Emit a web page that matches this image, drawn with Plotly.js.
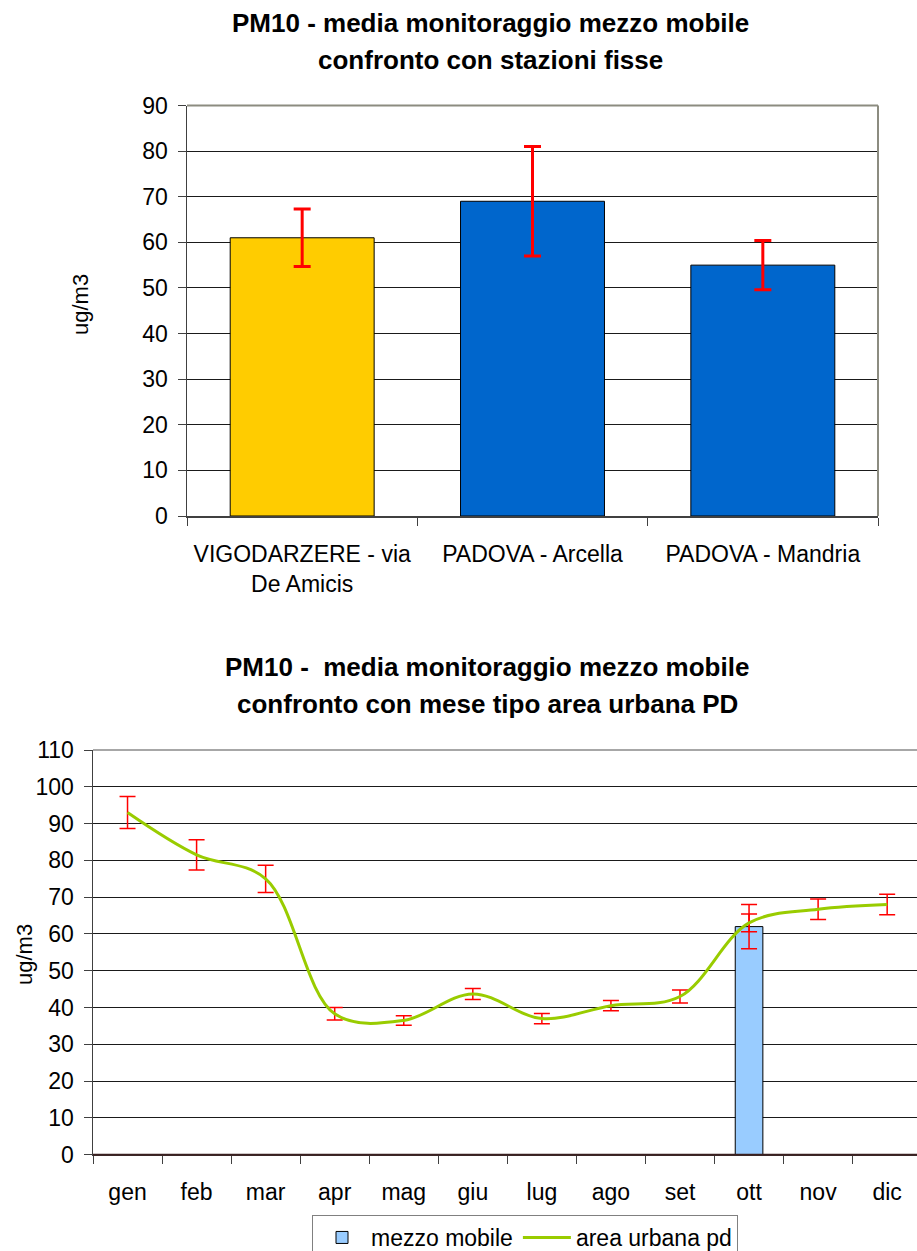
<!DOCTYPE html>
<html>
<head>
<meta charset="utf-8">
<script src="https://cdn.plot.ly/plotly-3.0.1.min.js"></script>
<style>
html,body{margin:0;padding:0;background:#ffffff;}
#chart{width:917px;height:1251px;}
</style>
</head>
<body>
<div id="chart"></div>
<script>
// ---- Top chart data: PM10 mean, mobile unit vs fixed stations ----
const stations = ['VIGODARZERE - via<br>De Amicis', 'PADOVA - Arcella', 'PADOVA - Mandria'];
const stationMeans = [61, 69, 55];
const stationErr = [6.3, 12, 5.4];

// ---- Bottom chart data: monthly typical urban area vs mobile unit ----
const months = ['gen', 'feb', 'mar', 'apr', 'mag', 'giu', 'lug', 'ago', 'set', 'ott', 'nov', 'dic'];
const mobileValues = [0, 0, 0, 0, 0, 0, 0, 0, 0, 62, 0, 0];
const mobileErr = [0, 0, 0, 0, 0, 0, 0, 0, 0, 6, 0, 0];
const urbanValues = [93, 81.5, 75, 38.3, 36.5, 43.7, 37, 40.5, 43, 63, 66.7, 68];
const urbanErr = [4.35, 4.1, 3.7, 1.7, 1.3, 1.5, 1.4, 1.4, 1.8, 2.4, 2.8, 2.8];

// ---- Text ----
const topTitle = ['PM10 - media monitoraggio mezzo mobile', 'confronto con stazioni fisse'];
const bottomTitle = ['PM10 -  media monitoraggio mezzo mobile', 'confronto con mese tipo area urbana PD'];
const unitLabel = 'ug/m3';
const seriesNames = ['mezzo mobile', 'area urbana pd'];

// ---- Styles ----
const W = 917, H = 1251;
const FONT = 'Liberation Sans, Arial, sans-serif';
const stationColors = ['#FFCC00', '#0066CC', '#0066CC'];
const px = v => v / W;            // horizontal pixel -> paper
const py = v => 1 - v / H;        // vertical pixel (from top) -> paper
const axisLine = '#404040';
const gridCol = '#1a1a1a';

const traces = [
  {
    type: 'bar',
    x: stations,
    y: stationMeans,
    xaxis: 'x', yaxis: 'y',
    width: 0.625,
    marker: {color: stationColors, line: {color: '#000000', width: 1}},
    error_y: {type: 'data', array: stationErr, visible: true, color: '#FF0000', thickness: 3, width: 8.5},
    showlegend: false,
    hoverinfo: 'skip'
  },
  {
    type: 'bar',
    name: seriesNames[0],
    x: months,
    y: mobileValues,
    xaxis: 'x2', yaxis: 'y2',
    width: 0.4,
    marker: {color: '#99CCFF', line: {color: '#000000', width: 1}},
    error_y: {type: 'data', array: mobileErr, visible: true, color: '#FF0000', thickness: 1.5, width: 8},
    hoverinfo: 'skip'
  },
  {
    type: 'scatter',
    mode: 'lines',
    name: seriesNames[1],
    x: months,
    y: urbanValues,
    xaxis: 'x2', yaxis: 'y2',
    line: {color: '#99CC00', width: 3, shape: 'spline', smoothing: 1},
    error_y: {type: 'data', array: urbanErr, visible: true, color: '#FF0000', thickness: 1.5, width: 8},
    hoverinfo: 'skip'
  }
];

const tickFont = {family: FONT, size: 23, color: '#000000'};

const layout = {
  width: W, height: H,
  margin: {l: 0, r: 0, t: 0, b: 0, autoexpand: false},
  paper_bgcolor: '#ffffff',
  plot_bgcolor: '#ffffff',
  font: {family: FONT, color: '#000000'},
  showlegend: true,
  xaxis: {
    domain: [px(187), px(878)],
    anchor: 'y',
    type: 'category',
    range: [-0.5, 2.5],
    tickson: 'boundaries',
    ticks: 'outside', ticklen: 8, tickcolor: axisLine, tickwidth: 1,
    showline: true, linecolor: axisLine, linewidth: 1.5,
    showgrid: false, zeroline: false,
    tickfont: tickFont,
    ticklabelstandoff: 17,
    fixedrange: true
  },
  yaxis: {
    domain: [py(516), py(105.5)],
    anchor: 'x',
    range: [0, 90],
    dtick: 10, tick0: 0,
    ticks: 'outside', ticklen: 8, tickcolor: axisLine, tickwidth: 1,
    showline: true, linecolor: axisLine, linewidth: 1.5,
    showgrid: true, gridcolor: gridCol, gridwidth: 1,
    zeroline: false,
    tickfont: tickFont,
    ticklabelstandoff: 5,
    fixedrange: true
  },
  xaxis2: {
    domain: [px(93), 1],
    anchor: 'y2',
    type: 'category',
    range: [-0.5, 11.432],
    tickson: 'boundaries',
    ticks: 'outside', ticklen: 8, tickcolor: axisLine, tickwidth: 1,
    showline: true, linecolor: axisLine, linewidth: 1.5,
    showgrid: false, zeroline: false,
    tickfont: tickFont,
    ticklabelstandoff: 16,
    fixedrange: true
  },
  yaxis2: {
    domain: [py(1154.7), py(750)],
    anchor: 'x2',
    range: [0, 110],
    dtick: 10, tick0: 0,
    ticks: 'outside', ticklen: 8, tickcolor: axisLine, tickwidth: 1,
    showline: true, linecolor: axisLine, linewidth: 1.5,
    showgrid: true, gridcolor: gridCol, gridwidth: 1,
    zeroline: false,
    tickfont: tickFont,
    ticklabelstandoff: 5,
    fixedrange: true
  },
  legend: {
    orientation: 'h',
    x: px(525), xanchor: 'center',
    y: py(1215), yanchor: 'top',
    bordercolor: '#808080', borderwidth: 1,
    bgcolor: '#ffffff',
    itemwidth: 48,
    font: {family: FONT, size: 23, color: '#000000'},
    traceorder: 'normal'
  },
  shapes: [
    {type: 'line', xref: 'x domain', yref: 'y domain', x0: 0, x1: 1, y0: 1, y1: 1,
     line: {color: '#8c8c80', width: 2}, layer: 'above'},
    {type: 'line', xref: 'x domain', yref: 'y domain', x0: 1, x1: 1, y0: 0, y1: 1,
     line: {color: '#8c8c80', width: 2}, layer: 'above'},
    {type: 'line', xref: 'x2 domain', yref: 'y2 domain', x0: 0, x1: 1, y0: 1, y1: 1,
     line: {color: '#8a8a8a', width: 1.5}, layer: 'above'},
    {type: 'line', xref: 'x2 domain', yref: 'y2 domain', x0: 0, x1: 1, y0: 0, y1: 0,
     line: {color: '#3a2020', width: 2}, layer: 'above'}
  ],
  annotations: [
    {text: '<b>' + topTitle[0] + '</b>', xref: 'paper', yref: 'paper', x: px(490), y: py(23),
     xanchor: 'center', yanchor: 'middle', showarrow: false, font: {family: FONT, size: 26, color: '#000000'}},
    {text: '<b>' + topTitle[1] + '</b>', xref: 'paper', yref: 'paper', x: px(490), y: py(60),
     xanchor: 'center', yanchor: 'middle', showarrow: false, font: {family: FONT, size: 26, color: '#000000'}},
    {text: '<b>' + bottomTitle[0] + '</b>', xref: 'paper', yref: 'paper', x: px(487), y: py(667),
     xanchor: 'center', yanchor: 'middle', showarrow: false, font: {family: FONT, size: 26, color: '#000000'}},
    {text: '<b>' + bottomTitle[1] + '</b>', xref: 'paper', yref: 'paper', x: px(487), y: py(704),
     xanchor: 'center', yanchor: 'middle', showarrow: false, font: {family: FONT, size: 26, color: '#000000'}},
    {text: unitLabel, xref: 'paper', yref: 'paper', x: px(81), y: py(305), textangle: -90,
     xanchor: 'center', yanchor: 'middle', showarrow: false, font: {family: FONT, size: 22, color: '#000000'}},
    {text: unitLabel, xref: 'paper', yref: 'paper', x: px(24), y: py(955), textangle: -90,
     xanchor: 'center', yanchor: 'middle', showarrow: false, font: {family: FONT, size: 22, color: '#000000'}}
  ]
};

Plotly.newPlot('chart', traces, layout, {staticPlot: true, displayModeBar: false});
</script>
</body>
</html>
